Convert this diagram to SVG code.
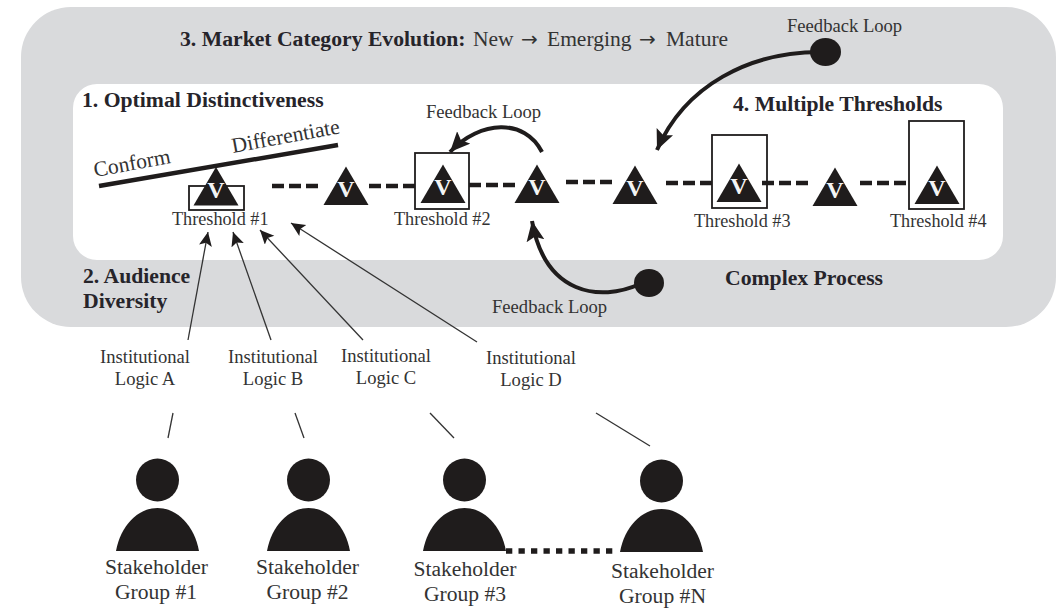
<svg xmlns="http://www.w3.org/2000/svg" width="1056" height="611" viewBox="0 0 1056 611">
<defs>
<marker id="ah" markerUnits="userSpaceOnUse" markerWidth="15" markerHeight="14" refX="14" refY="6.5" orient="auto"><path d="M0,0L14,6.5L0,13L3,6.5Z" fill="#1f1c1c"/></marker>
<marker id="ahb" markerUnits="userSpaceOnUse" markerWidth="22" markerHeight="20" refX="20" refY="9" orient="auto"><path d="M0,0L20,9L0,18L4,9Z" fill="#1f1c1c"/></marker>
<g id="tri"><path d="M0,-38.5L22.5,0L-22.5,0Z" fill="#1f1c1c"/><text x="0" y="-8" class="v">V</text></g>
<g id="person"><circle cx="0" cy="-71" r="21.5" fill="#1f1c1c"/><path d="M-41.5,0C-37,-25 -20,-43 0,-43C20,-43 37,-25 41.5,0Z" fill="#1f1c1c"/></g>
</defs>
<style>
text{font-family:"Liberation Serif","Times New Roman",serif;fill:#333}
.b{font-weight:bold;font-size:21.7px;fill:#26242a}
.n{font-size:21.5px}
.arrow{font-family:"DejaVu Sans",sans-serif;font-size:20px}
.t{font-size:18.2px}
.f{font-size:18.6px}
.l{font-size:18.6px;text-anchor:middle}
.s{font-size:21.6px;text-anchor:middle}
.v{font-size:24px;font-weight:bold;fill:#f4f4f4;text-anchor:middle}
.box{fill:none;stroke:#1f1c1c;stroke-width:1.8}
.dash{stroke:#1f1c1c;stroke-width:4.5;stroke-dasharray:12 5;fill:none}
.thin{stroke:#333;stroke-width:1.3;fill:none}
.curve{stroke:#1f1c1c;stroke-width:4;fill:none}
</style>
<rect id="outer" x="21" y="7" width="1035" height="320" rx="50" fill="#d9dadc"/>
<rect id="inner" x="73" y="84" width="930" height="176" rx="24" fill="#fff"/>
<g id="connectors">
<path class="dash" d="M272,186H318"/><path class="dash" d="M369,186H415"/><path class="dash" d="M469,185H515"/><path class="dash" d="M566,182H612"/><path class="dash" d="M666,183H712"/><path class="dash" d="M762,183H808"/><path class="dash" d="M860,183H906"/>
<path d="M99,186L338,145" stroke="#1f1c1c" stroke-width="4.5"/>
<path class="thin" marker-end="url(#ah)" d="M188,340L208,232"/>
<path class="thin" marker-end="url(#ah)" d="M271,340L233,232"/>
<path class="thin" marker-end="url(#ah)" d="M363,340L260,230"/>
<path class="thin" marker-end="url(#ah)" d="M477,342L291,223"/>
<path class="thin" d="M173,413L168,438"/><path class="thin" d="M295,413L304,438"/><path class="thin" d="M430,413L454,438"/><path class="thin" d="M596,413L650,446"/>
<path class="curve" marker-end="url(#ahb)" d="M820,52C750,52 685,85 657,150"/>
<path class="curve" marker-end="url(#ahb)" d="M640,284C600,302 545,295 532,221"/>
<path class="curve" marker-end="url(#ahb)" d="M542,152C525,118 480,120 450,152"/>
<path d="M506,551H613" stroke="#1f1c1c" stroke-width="5.5" stroke-dasharray="6.3 6.2"/>
</g>
<g id="threshold1"><rect class="box" x="189" y="186" width="55" height="24"/><use href="#tri" x="216" y="205.500"/><text class="t" x="172" y="225">Threshold #1</text></g>
<g id="v2"><use href="#tri" x="346" y="205"/></g>
<g id="threshold2"><rect class="box" x="415" y="153" width="54" height="56"/><use href="#tri" x="443" y="203"/><text class="t" x="394" y="225">Threshold #2</text></g>
<g id="v4"><use href="#tri" x="537" y="203"/></g>
<g id="v5"><use href="#tri" x="635" y="204"/></g>
<g id="threshold3"><rect class="box" x="712" y="135" width="55" height="73"/><use href="#tri" x="739" y="202"/><text class="t" x="694" y="227">Threshold #3</text></g>
<g id="v7"><use href="#tri" x="835" y="206"/></g>
<g id="threshold4"><rect class="box" x="909" y="121" width="55" height="88"/><use href="#tri" x="937" y="204"/><text class="t" x="890" y="227">Threshold #4</text></g>
<g id="dots"><ellipse cx="825.500" cy="52" rx="15.500" ry="14" fill="#1f1c1c"/><ellipse cx="649" cy="283" rx="15" ry="14" fill="#1f1c1c"/></g>
<g id="labels">
<text class="b" x="180" y="46">3. Market Category Evolution:</text>
<text class="n" y="46"><tspan x="473">New</tspan><tspan class="arrow" x="521">→</tspan><tspan x="547">Emerging</tspan><tspan class="arrow" x="639">→</tspan><tspan x="666">Mature</tspan></text>
<text class="b" x="82" y="107">1. Optimal Distinctiveness</text>
<text class="b" x="83" y="283">2. Audience</text>
<text class="b" x="83" y="308">Diversity</text>
<text class="b" x="733" y="111">4. Multiple Thresholds</text>
<text class="b" x="725" y="285">Complex Process</text>
<text class="f" x="787" y="32">Feedback Loop</text>
<text class="f" x="426" y="118">Feedback Loop</text>
<text class="f" x="492" y="313">Feedback Loop</text>
<text class="n" transform="translate(95,177) rotate(-10.4)">Conform</text>
<text class="n" transform="translate(233,153) rotate(-10.4)">Differentiate</text>
</g>
<g id="logicA"><text class="l" x="145" y="363">Institutional</text><text class="l" x="145" y="385">Logic A</text></g>
<g id="logicB"><text class="l" x="273" y="363">Institutional</text><text class="l" x="273" y="385">Logic B</text></g>
<g id="logicC"><text class="l" x="386" y="362">Institutional</text><text class="l" x="386" y="384">Logic C</text></g>
<g id="logicD"><text class="l" x="531" y="364">Institutional</text><text class="l" x="531" y="386">Logic D</text></g>
<g id="group1"><use href="#person" x="157.500" y="551"/><text class="s" x="156.500" y="574">Stakeholder</text><text class="s" x="156" y="599">Group #1</text></g>
<g id="group2"><use href="#person" x="308.500" y="551"/><text class="s" x="307.500" y="574">Stakeholder</text><text class="s" x="307.500" y="599">Group #2</text></g>
<g id="group3"><use href="#person" x="464.500" y="551"/><text class="s" x="465" y="576">Stakeholder</text><text class="s" x="465" y="601">Group #3</text></g>
<g id="groupN"><use href="#person" x="661.500" y="552"/><text class="s" x="662.500" y="578">Stakeholder</text><text class="s" x="662.500" y="603">Group #N</text></g>
</svg>
